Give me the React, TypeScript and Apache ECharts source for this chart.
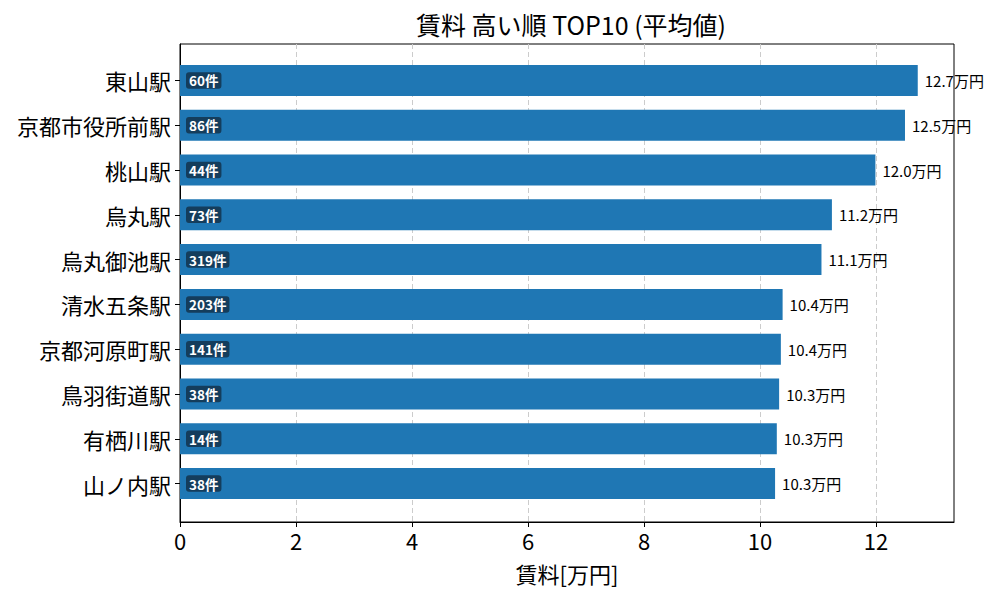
import React, { useEffect, useRef } from "react";
import * as echarts from "echarts";

const stations = ["東山駅", "京都市役所前駅", "桃山駅", "烏丸駅", "烏丸御池駅", "清水五条駅", "京都河原町駅", "鳥羽街道駅", "有栖川駅", "山ノ内駅"];
const rents = [12.72, 12.5, 11.99, 11.24, 11.06, 10.39, 10.36, 10.33, 10.29, 10.26];
const counts = [60, 86, 44, 73, 319, 203, 141, 38, 14, 38];
const xTicks = [0, 2, 4, 6, 8, 10, 12];

const FONT = "Noto Sans CJK JP";

export default function App() {
  const ref = useRef<HTMLDivElement>(null);
  useEffect(() => {
    const chart = echarts.init(ref.current!, null, { renderer: "svg" });
    const xMax = 13.345;
    chart.setOption({
      animation: false,
      textStyle: { fontFamily: FONT },
      title: {
        text: "賃料 高い順 TOP10 (平均値)",
        left: 566,
        textAlign: "center",
        top: 6,
        textStyle: { fontFamily: FONT, fontSize: 25, fontWeight: "normal", color: "#000" },
      },
      grid: [
        { left: 180, right: 46, top: 44, bottom: 78, show: true, borderColor: "#000", borderWidth: 1, backgroundColor: "transparent" },
        { left: 180, right: 46, top: 58, height: 448 },
      ],
      xAxis: [
        {
          gridIndex: 0,
          type: "value",
          min: 0,
          max: xMax,
          interval: 2,
          name: "賃料[万円]",
          nameLocation: "middle",
          nameGap: 40,
          nameTextStyle: { fontFamily: FONT, fontSize: 22, color: "#000" },
          axisLine: { show: true, lineStyle: { color: "#000" } },
          axisTick: { show: true, length: 5, lineStyle: { color: "#000" }, customValues: xTicks },
          axisLabel: { fontFamily: FONT, fontSize: 22, color: "#000", margin: 7, customValues: xTicks },
          splitLine: { show: true, lineStyle: { color: "#cccccc", type: [5, 3], width: 1 } },
        },
        {
          gridIndex: 1,
          type: "value",
          min: 0,
          max: xMax,
          show: false,
          splitLine: { show: false },
        },
      ],
      yAxis: [
        {
          gridIndex: 0,
          type: "value",
          axisLine: { show: true, lineStyle: { color: "#000" } },
          axisTick: { show: false },
          axisLabel: { show: false },
          splitLine: { show: false },
        },
        {
          gridIndex: 1,
          type: "category",
          inverse: true,
          data: stations,
          axisLine: { show: false },
          axisTick: { show: true, alignWithLabel: true, length: 5, lineStyle: { color: "#000" } },
          axisLabel: { fontFamily: FONT, fontSize: 22, color: "#000", margin: 9 },
        },
      ],
      series: [
        {
          type: "bar",
          xAxisIndex: 1,
          yAxisIndex: 1,
          data: rents,
          barWidth: 31,
          barGap: "-100%",
          itemStyle: { color: "#1f77b4" },
          label: {
            show: true,
            position: "insideLeft",
            distance: 6,
            formatter: (p: any) => `${counts[p.dataIndex]}件`,
            fontFamily: FONT,
            fontSize: 13.5,
            fontWeight: "bold",
            color: "#fff",
            backgroundColor: "#143d5c",
            borderRadius: 3,
            padding: [2, 3, 1, 3],
          },
        },
        {
          type: "bar",
          xAxisIndex: 1,
          yAxisIndex: 1,
          data: rents,
          barWidth: 31,
          barGap: "-100%",
          itemStyle: { color: "rgba(0,0,0,0)" },
          label: {
            show: true,
            position: "right",
            distance: 7,
            formatter: (p: any) => `${p.value.toFixed(1)}万円`,
            fontFamily: FONT,
            fontSize: 15,
            color: "#000",
          },
        },
      ],
    });
    return () => chart.dispose();
  }, []);
  return <div ref={ref} style={{ position: "fixed", left: 0, top: 0, width: 1000, height: 600, background: "#fff" }} />;
}
